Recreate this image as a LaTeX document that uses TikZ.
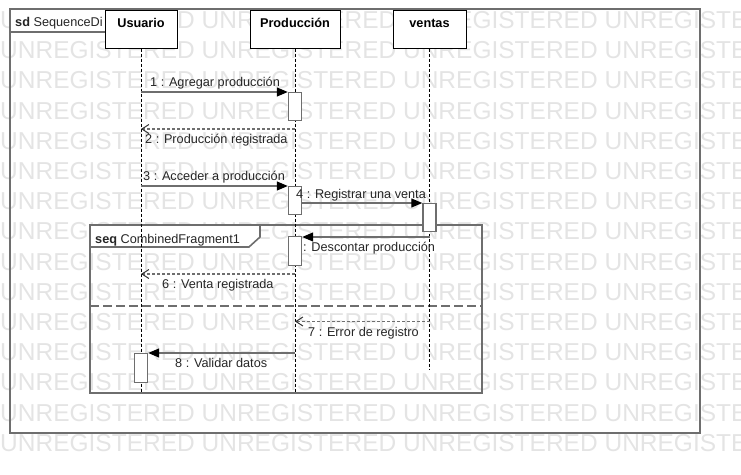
\documentclass[tikz,border=0pt]{standalone}
\usepackage{fontspec}
\setmainfont{Liberation Sans}
\usetikzlibrary{arrows.meta}
\definecolor{linegray}{HTML}{6E6E6E}
\definecolor{wmgray}{HTML}{E4E4E4}
\definecolor{txtgray}{HTML}{262626}

\begin{document}
\begin{tikzpicture}[x=1pt, y=-1pt, font=\fontsize{12.7}{14}\selectfont,
  wm/.style={anchor=west, inner sep=0pt, text=wmgray, font=\fontsize{24.5}{24.5}\selectfont},
  frame/.style={draw=linegray, line width=1.6pt},
  head/.style={draw=black, line width=1pt, fill=white, minimum height=38pt, inner sep=0pt},
  headtxt/.style={anchor=base, inner sep=0pt, font=\fontsize{12.7}{14}\selectfont\bfseries},
  lifeline/.style={draw=black, line width=0.9pt, dash pattern=on 3pt off 2pt},
  act/.style={draw=linegray, line width=1.4pt, fill=white, minimum width=13pt, inner sep=0pt, anchor=north},
  msg/.style={draw=linegray, line width=1.2pt, -{Triangle[length=11pt, width=9pt, color=black]}},
  ret/.style={draw=linegray, line width=1.2pt, dash pattern=on 3pt off 2pt,
              -{Straight Barb[length=7pt, width=9pt, line width=1pt, color=black!80]}},
  txt/.style={anchor=base west, inner sep=0pt, text=txtgray}]

  \useasboundingbox (0,0) rectangle (741,474);

  % watermark
  \begin{scope}
    \clip (0,0) rectangle (741,474);
    \foreach \r in {0,...,14}
      \node[wm] (wm\r) at (0,20+30.2*\r) {UNREGISTERED UNREGISTERED UNREGISTERED UNREGISTERED};
  \end{scope}

  % diagram frame
  \draw[frame] (10,9) rectangle (700,433);
  \draw[frame, fill=white] (10,9) -- (116,9) -- (116,24) -- (108,32) -- (10,32) -- cycle;
  \node[txt] (sdlbl) at (15,26) {\textbf{sd} SequenceDi};

  % combined fragment
  \draw[frame] (90,225) rectangle (482,393);
  \draw[frame, dash pattern=on 9pt off 4pt] (90,306) -- (482,306);
  \draw[frame, fill=white] (90,225) -- (260,225) -- (260,237) -- (249,247) -- (90,247) -- cycle;
  \node[txt] (seqlbl) at (95,243) {\textbf{seq} CombinedFragment1};

  % lifelines
  \node[head, minimum width=72pt] (usuario) at (141,29) {};
  \node[head, minimum width=90pt] (produccion) at (295,29) {};
  \node[head, minimum width=73pt] (ventas) at (429.5,29) {};
  \node[headtxt] (usuarioT) at (141,27.5) {Usuario};
  \node[headtxt] (produccionT) at (295,27.5) {Producción};
  \node[headtxt] (ventasT) at (429.5,27.5) {ventas};

  \coordinate (usuarioEnd) at (141,393);
  \coordinate (produccionEnd) at (295,393);
  \coordinate (ventasEnd) at (429.5,370);
  \draw[lifeline] (usuario.south) -- (usuarioEnd);
  \draw[lifeline] (produccion.south) -- (produccionEnd);
  \draw[lifeline] (ventas.south) -- (ventasEnd);

  % activations
  \node[act, minimum height=28pt] (a1) at (produccion |- 0,92) {};
  \node[act, minimum height=28pt] (a2) at (produccion |- 0,186) {};
  \node[act, minimum height=28pt] (av) at (ventas |- 0,203) {};
  \node[act, minimum height=29pt] (a3) at (produccion |- 0,236) {};
  \node[act, minimum height=29pt] (au) at (usuario |- 0,353) {};

  % messages
  \draw[msg] (usuario |- a1.north west) -- (a1.north west);
  \draw[ret] (produccion |- 0,129) -- (usuario |- 0,129);
  \draw[msg] (usuario |- a2.north west) -- (a2.north west);
  \draw[msg] (a2.east |- av.north west) -- (av.north west);
  \draw[msg] (ventas |- 0,237) -- (a3.east |- 0,237);
  \draw[ret] (produccion |- 0,274) -- (usuario |- 0,274);
  \draw[ret] (ventas |- 0,321.5) -- (produccion |- 0,321.5);
  \draw[msg] (produccion |- au.north east) -- (au.north east);

  \node[txt] (l1) at (150,86) {1 : Agregar producción};
  \node[txt] (l2) at (145,143) {2 : Producción registrada};
  \node[txt] (l3) at (143,180) {3 : Acceder a producción};
  \node[txt] (l4) at (296,198) {4 : Registrar una venta};
  \node[txt] (l5) at (303,251) {: Descontar producción};
  \node[txt] (l6) at (162,288) {6 : Venta registrada};
  \node[txt] (l7) at (308,336) {7 : Error de registro};
  \node[txt] (l8) at (175,367.5) {8 : Validar datos};

\end{tikzpicture}
\end{document}
